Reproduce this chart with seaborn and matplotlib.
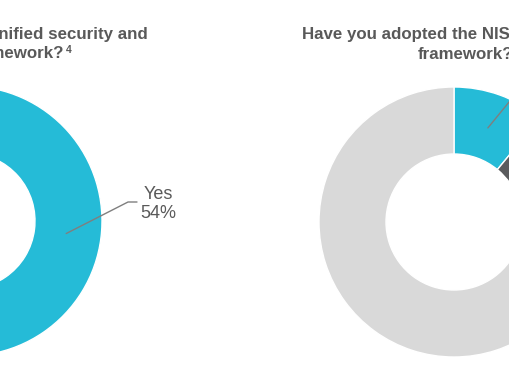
import numpy as np
import matplotlib
matplotlib.use("Agg")
import matplotlib.pyplot as plt
import seaborn as sns

# ---- data ----
left_title = ["Do you have a unified security and", "privacy framework?"]
left_note = "4"
left_labels = ["Yes", "No"]
left_values = [54, 46]

right_title = ["Have you adopted the NIST Cybersecurity", "framework?"]
right_labels = ["Yes", "Partially", "No"]
right_values = [11, 9, 80]

sns.set_theme(style="white")
plt.rcParams["font.family"] = ["Liberation Sans", "DejaVu Sans"]

CYAN = "#25BBD7"
DARK = "#5A5B5D"
LIGHT = "#D9D9D9"
TXT = "#595959"
LINE = "#7F7F7F"

W, H = 510, 382
fig = plt.figure(figsize=(W / 100, H / 100), dpi=100)
ax = fig.add_axes([0, 0, 1, 1])
ax.set_xlim(0, W)
ax.set_ylim(0, H)
ax.set_aspect("equal")
ax.axis("off")

R, WIDTH = 135, 67
left_c = (-33, 382 - 221)
right_c = (454, 382 - 222)

ax.pie(left_values, colors=[CYAN, LIGHT], startangle=90, counterclock=False,
       center=left_c, radius=R, frame=True,
       wedgeprops=dict(width=WIDTH, edgecolor="white", linewidth=1))
ax.pie(right_values, colors=[CYAN, DARK, LIGHT], startangle=90, counterclock=False,
       center=right_c, radius=R, frame=True,
       wedgeprops=dict(width=WIDTH, edgecolor="white", linewidth=1))
ax.set_xlim(0, W)
ax.set_ylim(0, H)
ax.axis("off")


def mid_point(values, idx, center, r):
    tot = sum(values)
    start = sum(values[:idx]) / tot
    frac = (start + values[idx] / tot / 2)
    ang = np.deg2rad(90 - 360 * frac)
    return center[0] + r * np.cos(ang), center[1] + r * np.sin(ang)


# left leader + label
x0, y0 = mid_point(left_values, 0, left_c, 100)
ax.plot([x0, 128, 137], [y0, 382 - 202, 382 - 202], color=LINE, lw=1)
ax.text(158, 382 - 199, left_labels[0], ha="center", va="baseline", fontsize=13, color=TXT)
ax.text(158, 382 - 218, f"{left_values[0]}%", ha="center", va="baseline", fontsize=13, color=TXT)

# right leader
x1, y1 = mid_point(right_values, 0, right_c, 100)
ax.plot([x1, 532, 545], [y1, 382 - 74, 382 - 74], color=LINE, lw=1, clip_on=False)

# titles
tkw = dict(fontsize=12.2, fontweight="bold", color=TXT, va="baseline")
ax.text(148, 382 - 39, left_title[0], ha="right", **tkw)
ax.text(63, 382 - 58, left_title[1], ha="right", **tkw)
ax.text(66, 382 - 53, left_note, ha="left", va="baseline", fontsize=7.5,
        fontweight="bold", color=TXT)
ax.text(302, 382 - 39, right_title[0], ha="left", **tkw)
ax.text(418, 382 - 59, right_title[1], ha="left", **tkw)

fig.savefig("out.png", dpi=100)
